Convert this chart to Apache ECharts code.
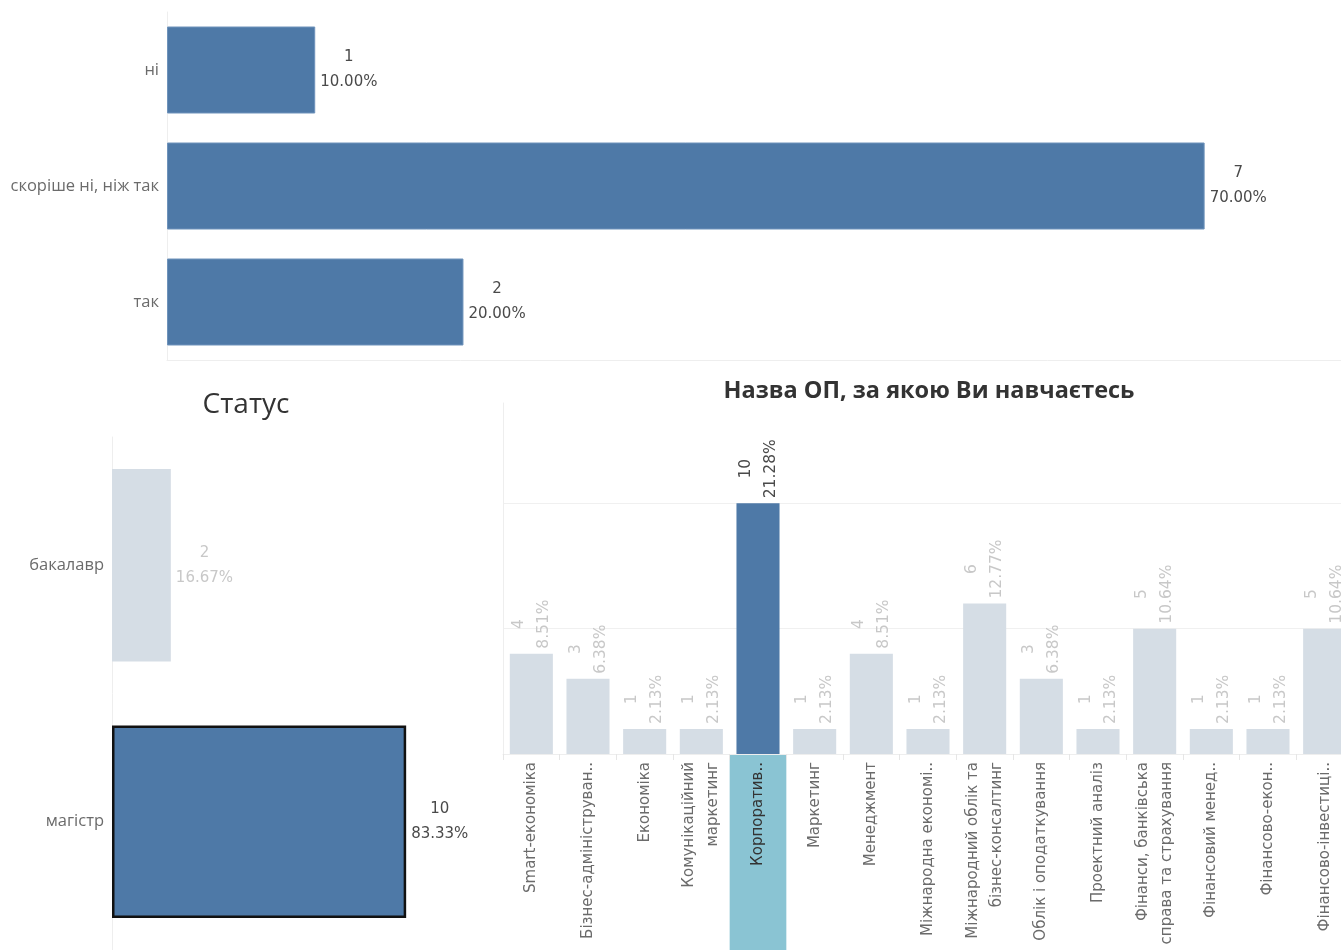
<!DOCTYPE html>
<html>
<head>
<meta charset="utf-8">
<script src="https://cdn.jsdelivr.net/npm/echarts@6/dist/echarts.min.js"></script>
<style>
html,body{margin:0;padding:0;background:#fff;overflow:hidden;}
#c{width:1380px;height:950px;}
</style>
</head>
<body>
<div id="c"></div>
<script>
// ---- data ----
const topCats = ['ні', 'скоріше ні, ніж так', 'так'];
const topVals = [1, 7, 2];
const topPct = ['10.00%', '70.00%', '20.00%'];

const statusTitle = 'Статус';
const statusCats = ['бакалавр', 'магістр'];
const statusVals = [2, 10];
const statusPct = ['16.67%', '83.33%'];
const statusSelected = 'магістр';

const opTitle = 'Назва ОП, за якою Ви навчаєтесь';
const opCats = [
  'Smart-економіка',
  'Бізнес-адмініструван..',
  'Економіка',
  'Комунікаційний\nмаркетинг',
  'Корпоратив..',
  'Маркетинг',
  'Менеджмент',
  'Міжнародна економі..',
  'Міжнародний облік та\nбізнес-консалтинг',
  'Облік і оподаткування',
  'Проектний аналіз',
  'Фінанси, банківська\nсправа та страхування',
  'Фінансовий менед..',
  'Фінансово-екон..',
  'Фінансово-інвестиці..'
];
const opVals = [4, 3, 1, 1, 10, 1, 4, 1, 6, 3, 1, 5, 1, 1, 5];
const opPct = ['8.51%', '6.38%', '2.13%', '2.13%', '21.28%', '2.13%', '8.51%', '2.13%', '12.77%', '6.38%', '2.13%', '10.64%', '2.13%', '2.13%', '10.64%'];
const opSelected = 'Корпоратив..';

// ---- styles ----
const BLUE = '#4e79a7';
const PALE = '#d5dde5';
const DARK_TXT = '#4a4a4a';
const PALE_TXT = '#c8c8c8';
const AX_TXT = '#6b6b6b';
const LINE = '#eeeeee';
const FONT = '"DejaVu Sans", sans-serif';
const LFONT = '"Open Sans", sans-serif';

function richLabel(color, size) {
  return {
    v: { align: 'center', color: color, fontSize: size, fontFamily: FONT, lineHeight: 25 },
    p: { align: 'center', color: color, fontSize: size, fontFamily: FONT, lineHeight: 25 }
  };
}

const chart = echarts.init(document.getElementById('c'), null, { renderer: 'canvas' });

const option = {
  animation: false,
  backgroundColor: '#fff',
  title: [
    { text: statusTitle, left: 241, top: 386, textAlign: 'center',
      textStyle: { fontFamily: LFONT, fontSize: 28, fontWeight: 500, color: '#333' } },
    { text: opTitle, left: 924, top: 374, textAlign: 'center',
      textStyle: { fontFamily: LFONT, fontSize: 23.5, fontWeight: 'bold', color: '#333' } }
  ],
  grid: [
    { left: 167, top: 12, width: 1174, height: 348, containLabel: false },
    { left: 112, top: 437, width: 353, height: 524, containLabel: false },
    { left: 503, top: 403, width: 850, height: 351, containLabel: false },
    { left: 503, top: 755, width: 850, height: 195, containLabel: false }
  ],
  xAxis: [
    { gridIndex: 0, type: 'value', min: 0, max: 7.92,
      axisLine: { show: true, lineStyle: { color: LINE } },
      axisTick: { show: false }, axisLabel: { show: false }, splitLine: { show: false } },
    { gridIndex: 1, type: 'value', min: 0, max: 12,
      axisLine: { show: false }, axisTick: { show: false }, axisLabel: { show: false }, splitLine: { show: false } },
    { gridIndex: 2, type: 'category', data: opCats,
      axisLine: { show: true, lineStyle: { color: LINE } },
      axisTick: { show: true, length: 6, lineStyle: { color: '#e6e6e6' } },
      axisLabel: {
        interval: 0, rotate: 90, margin: 8, fontFamily: FONT, fontSize: 15, lineHeight: 24,
        color: AX_TXT,
        formatter: function (v) { return v === opSelected ? '{s|' + v + '}' : v; },
        rich: { s: { color: '#333', fontFamily: FONT, fontSize: 15 } }
      } },
    { gridIndex: 3, type: 'category', data: opCats, show: false }
  ],
  yAxis: [
    { gridIndex: 0, type: 'category', data: topCats, inverse: true,
      axisLine: { show: true, lineStyle: { color: LINE } }, axisTick: { show: false },
      axisLabel: { fontFamily: LFONT, fontSize: 16.5, color: AX_TXT, margin: 8 } },
    { gridIndex: 1, type: 'category', data: statusCats, inverse: true,
      axisLine: { show: true, lineStyle: { color: LINE } }, axisTick: { show: false },
      axisLabel: { fontFamily: LFONT, fontSize: 16.5, color: AX_TXT, margin: 8 } },
    { gridIndex: 2, type: 'value', min: 0, max: 14, interval: 5,
      axisLine: { show: true, lineStyle: { color: LINE } }, axisTick: { show: false }, axisLabel: { show: false },
      splitLine: { show: true, showMaxLine: false, lineStyle: { color: '#f0f0f0' } } },
    { gridIndex: 3, type: 'value', min: 0, max: 1, show: false, splitLine: { show: false } }
  ],
  series: [
    { type: 'bar', xAxisIndex: 0, yAxisIndex: 0, barWidth: '75%',
      data: topVals.map(function (v, i) { return { value: v, pct: topPct[i] }; }),
      itemStyle: { color: BLUE, borderColor: '#6f93bb', borderWidth: 1 },
      label: { show: true, position: 'right', distance: 5, align: 'left', verticalAlign: 'middle',
        formatter: function (p) { return '{v|' + p.value + '}\n{p|' + topPct[p.dataIndex] + '}'; },
        rich: richLabel(DARK_TXT, 15) } },
    { type: 'bar', xAxisIndex: 1, yAxisIndex: 1, barWidth: '75%',
      data: statusVals.map(function (v, i) {
        const sel = statusCats[i] === statusSelected;
        return { value: v,
          itemStyle: sel ? { color: BLUE, borderColor: '#111', borderWidth: 2.5 } : { color: PALE },
          label: { rich: richLabel(sel ? DARK_TXT : PALE_TXT, 15) } };
      }),
      label: { show: true, position: 'right', distance: 5, align: 'left', verticalAlign: 'middle',
        formatter: function (p) { return '{v|' + p.value + '}\n{p|' + statusPct[p.dataIndex] + '}'; } } },
    { type: 'bar', xAxisIndex: 2, yAxisIndex: 2, barWidth: '76%',
      data: opVals.map(function (v, i) {
        const sel = opCats[i] === opSelected;
        return { value: v,
          itemStyle: { color: sel ? BLUE : PALE },
          label: { rich: richLabel(sel ? DARK_TXT : PALE_TXT, 15.5) } };
      }),
      label: { show: true, position: 'top', distance: 5, rotate: 90, align: 'left', verticalAlign: 'middle',
        formatter: function (p) { return '{v|' + p.value + '}\n{p|' + opPct[p.dataIndex] + '}'; } } },
    { type: 'bar', xAxisIndex: 3, yAxisIndex: 3, barWidth: '100%', z: -1, silent: true,
      data: opCats.map(function (c) { return c === opSelected ? 1 : '-'; }),
      itemStyle: { color: '#8ac4d3' } }
  ]
};
chart.setOption(option);
</script>
</body>
</html>
